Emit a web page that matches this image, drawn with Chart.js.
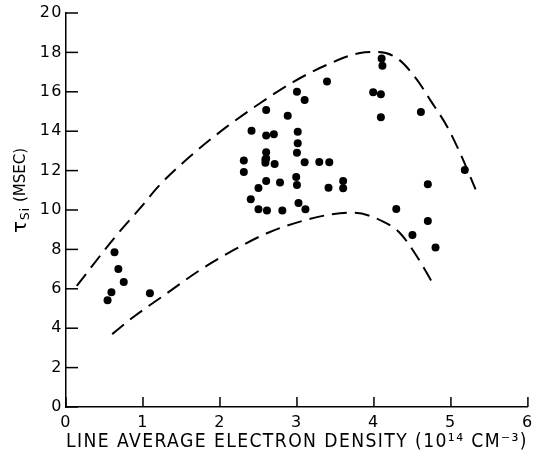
<!DOCTYPE html>
<html><head><meta charset="utf-8">
<script src="https://cdn.jsdelivr.net/npm/chart.js@4/dist/chart.umd.min.js"></script>
<style>html,body{margin:0;padding:0;background:#fff}#wrap{width:539px;height:456px}</style>
</head><body><div id="wrap"><canvas id="c" width="539" height="456"></canvas></div>
<script>
// Measured data points (density in 10^14 cm^-3, tau in msec)
const pointX = [0.63,0.68,0.75,0.59,0.54,1.09,
  2.60,2.88,2.41,2.60,2.70,3.01,3.01,2.60,3.00,2.31,2.59,2.59,2.71,3.10,3.29,3.42,
  2.31,2.60,2.78,2.99,3.00,2.50,3.41,3.60,3.60,2.40,2.50,2.61,2.81,3.02,3.11,
  4.10,4.11,3.99,4.09,4.61,4.09,5.18,4.70,4.29,4.70,4.50,4.80,
  3.00,3.10,3.39,2.60];
const pointY = [7.85,7.00,6.34,5.83,5.42,5.78,
  15.07,14.79,14.02,13.78,13.85,13.97,13.39,12.93,12.91,12.51,12.56,12.40,12.34,12.42,12.44,12.42,
  11.93,11.47,11.39,11.68,11.27,11.12,11.13,11.47,11.10,10.54,10.04,9.98,9.98,10.36,10.04,
  17.69,17.32,15.98,15.88,14.98,14.71,12.03,11.31,10.05,9.44,8.73,8.10,
  16.00,15.59,16.52,12.62];
// Upper dashed envelope
const upperX = [0.14,0.64,0.96,1.22,1.66,2.09,2.52,2.96,3.39,3.82,4.04,4.30,4.56,4.73,4.95,5.12,5.32];
const upperY = [6.15,8.64,10.08,11.28,12.88,14.23,15.42,16.52,17.37,17.97,18.02,17.71,16.61,15.59,14.24,12.88,11.05];
// Lower dashed envelope
const lowerX = [0.60,0.88,1.31,1.74,2.18,2.61,3.04,3.48,3.74,4.12,4.34,4.56,4.79];
const lowerY = [3.70,4.58,5.77,6.95,7.97,8.82,9.41,9.80,9.86,9.41,8.82,7.63,6.10];
const xTicks = [0,1,2,3,4,5,6];
const yTicks = [0,2,4,6,8,10,12,14,16,18,20];
const xTitle = 'LINE AVERAGE ELECTRON DENSITY (10\u00B9\u2074 CM\u207B\u00B3)';
const yTitleMain = '\u03C4', yTitleSub = 'Si', yTitleUnit = '(MSEC)';

const toXY = (xs, ys) => xs.map((x, i) => ({x, y: ys[i]}));
const FONT = '"DejaVu Sans", sans-serif';

const spacing = {id:'spacing', beforeDraw(chart){ chart.ctx.letterSpacing = '1.5px'; }};
const innerTicks = {
  id: 'innerTicks',
  afterDraw(chart) {
    const ctx = chart.ctx;
    const a = chart.chartArea;
    const xs = chart.scales.x, ys = chart.scales.y;
    ctx.save();
    ctx.fillStyle = '#000';
    for (const v of xTicks) {
      const p = xs.getPixelForValue(v);
      ctx.fillRect(p - 0.75, a.bottom - 10, 1.5, 10);
    }
    for (const v of yTicks) {
      const p = ys.getPixelForValue(v);
      ctx.fillRect(a.left, p - 0.75, 12, 1.5);
    }
    ctx.restore();

    // Y axis title: tau with subscript Si, then (MSEC)
    ctx.save();
    ctx.fillStyle = '#000';
    ctx.translate(26, 233);
    ctx.rotate(-Math.PI / 2);
    ctx.textBaseline = 'alphabetic';
    ctx.textAlign = 'left';
    let u = 0;
    ctx.letterSpacing = '0px';
    ctx.font = '20px ' + FONT;
    ctx.fillText(yTitleMain, u, 0);
    u += ctx.measureText(yTitleMain).width + 1;
    ctx.font = '12px ' + FONT;
    ctx.letterSpacing = '1px';
    ctx.fillText(yTitleSub, u, 3);
    u += ctx.measureText(yTitleSub).width + 5;
    ctx.font = '15px ' + FONT;
    ctx.letterSpacing = '0px';
    ctx.fillText(yTitleUnit, u, -1);
    ctx.restore();
  }
};

new Chart(document.getElementById('c'), {
  type: 'scatter',
  data: {
    datasets: [
      {type:'line', data: toXY(upperX, upperY), borderColor:'#000', borderWidth:2, borderDash:[15,8], pointRadius:0, cubicInterpolationMode:'monotone', fill:false},
      {type:'line', data: toXY(lowerX, lowerY), borderColor:'#000', borderWidth:2, borderDash:[15,8], pointRadius:0, cubicInterpolationMode:'monotone', fill:false},
      {data: toXY(pointX, pointY), backgroundColor:'#000', borderColor:'#000', borderWidth:0, pointRadius:4}
    ]
  },
  options: {
    responsive: false,
    animation: false,
    devicePixelRatio: 1,
    layout: {padding: {top: 13, right: 11, left: 0, bottom: 0}},
    plugins: {legend: {display: false}, tooltip: {enabled: false}},
    scales: {
      x: {
        type: 'linear', min: 0, max: 6,
        afterBuildTicks: s => { s.ticks = xTicks.map(v => ({value: v})); },
        ticks: {color:'#000', font:{family: FONT, size: 16}, padding: 6, callback: v => String(v)},
        grid: {drawOnChartArea: false, drawTicks: false},
        border: {color:'#000', width: 1.5},
        title: {display: true, text: xTitle, color:'#000', font:{family: FONT, size: 18.6}, padding:{top:0, bottom:3}},
        afterFit: s => { s.height = 49; }
      },
      y: {
        type: 'linear', min: 0, max: 20,
        afterBuildTicks: s => { s.ticks = yTicks.map(v => ({value: v})); },
        ticks: {color:'#000', font:{family: FONT, size: 16}, padding: 3, callback: v => String(v)},
        grid: {drawOnChartArea: false, drawTicks: false},
        border: {color:'#000', width: 1.5},
        afterFit: s => { s.width = 66; }
      }
    }
  },
  plugins: [spacing, innerTicks]
});
</script>
</body></html>
